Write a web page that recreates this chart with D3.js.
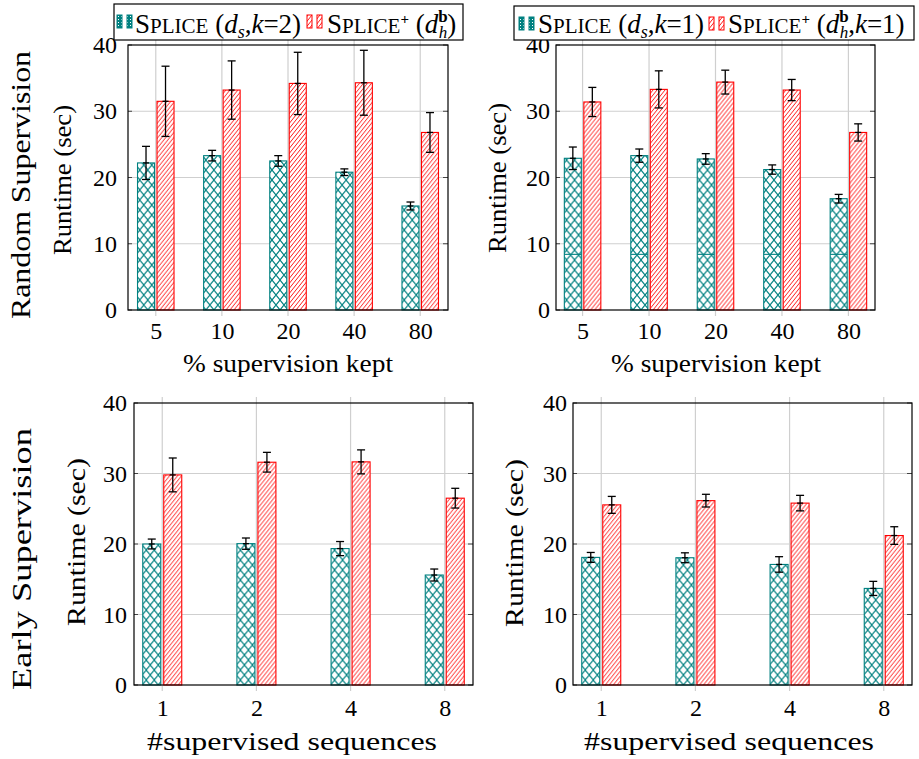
<!DOCTYPE html>
<html>
<head>
<meta charset="utf-8">
<script src="https://cdn.jsdelivr.net/npm/d3@7"></script>
</head>
<body style="margin:0;background:#fff">
<svg id="chart" width="919" height="759"></svg>
<script>
// ---- data ----
let randomCats = ["5", "10", "20", "40", "80"];
let earlyCats = ["1", "2", "4", "8"];
let yTicks = [0, 10, 20, 30, 40];

// random supervision, left (k=2)
let randK2Splice = [22.2, 23.3, 22.5, 20.8, 15.7];
let randK2SpliceErr = [2.5, 0.8, 0.8, 0.5, 0.6];
let randK2Plus = [31.5, 33.2, 34.2, 34.3, 26.8];
let randK2PlusErr = [5.3, 4.4, 4.7, 4.9, 3.0];

// random supervision, right (k=1)
let randK1Splice = [22.9, 23.3, 22.8, 21.2, 16.8];
let randK1SpliceErr = [1.7, 1.0, 0.8, 0.7, 0.65];
let randK1SpliceInner = [8.4, 8.4, 8.4, 8.4, 8.4];
let randK1Plus = [31.4, 33.3, 34.4, 33.2, 26.8];
let randK1PlusErr = [2.2, 2.8, 1.8, 1.6, 1.3];

// early supervision, left
let earlyK2Splice = [20.0, 20.05, 19.35, 15.6];
let earlyK2SpliceErr = [0.7, 0.8, 1.0, 0.85];
let earlyK2Plus = [29.8, 31.6, 31.65, 26.5];
let earlyK2PlusErr = [2.4, 1.4, 1.7, 1.4];

// early supervision, right
let earlyK1Splice = [18.1, 18.05, 17.1, 13.7];
let earlyK1SpliceErr = [0.7, 0.7, 1.1, 1.0];
let earlyK1Plus = [25.55, 26.15, 25.8, 21.2];
let earlyK1PlusErr = [1.2, 0.9, 1.1, 1.25];

let teal = "#008080";
let red = "#ff0000";
let serif = "Liberation Serif";

let svg = d3.select("#chart");

// patterns
let defs = svg.append("defs");
let cross = defs.append("pattern")
    .attr("id", "crossTeal")
    .attr("patternUnits", "userSpaceOnUse")
    .attr("width", 8).attr("height", 10);
cross.append("rect").attr("width", 8).attr("height", 10).attr("fill", "#fff");
cross.append("path")
    .attr("d", "M0,0L8,10M8,0L0,10")
    .attr("stroke", teal).attr("stroke-width", 1.1).attr("fill", "none");

let stripes = defs.append("pattern")
    .attr("id", "stripeRed")
    .attr("patternUnits", "userSpaceOnUse")
    .attr("width", 4).attr("height", 5);
stripes.append("rect").attr("width", 4).attr("height", 5).attr("fill", "#fff");
stripes.append("path")
    .attr("d", "M-1,1.25L1,-1.25M0,5L4,0M3,6.25L5,3.75")
    .attr("stroke", red).attr("stroke-width", 0.9).attr("fill", "none");

let dots = defs.append("pattern")
    .attr("id", "dotTeal")
    .attr("patternUnits", "userSpaceOnUse")
    .attr("width", 3).attr("height", 3);
dots.append("rect").attr("width", 3).attr("height", 3).attr("fill", teal);
dots.append("rect").attr("x", 1).attr("y", 1).attr("width", 1).attr("height", 1).attr("fill", "#fff");

function drawPanel(p) {
  let g = svg.append("g");
  let x = d3.scalePoint().domain(p.cats).range([p.x0, p.x1]).padding(p.pad);
  let y = d3.scaleLinear().domain([0, 40]).range([p.y1, p.y0]);
  let half = p.barW + p.gap / 2;
  let xs = d3.scaleBand().domain(["splice", "plus"])
      .range([-half, half]).paddingInner(p.gap / (p.barW + p.gap));

  // grid
  g.selectAll(".vgrid").data(p.cats).enter().append("line")
      .attr("x1", d => x(d)).attr("x2", d => x(d))
      .attr("y1", p.y0 - 6).attr("y2", p.y1 + 6)
      .attr("stroke", "#cfcfcf").attr("stroke-width", 1.2);
  g.selectAll(".hgrid").data(yTicks.slice(1, -1)).enter().append("line")
      .attr("x1", p.x0).attr("x2", p.x1)
      .attr("y1", d => y(d)).attr("y2", d => y(d))
      .attr("stroke", "#cfcfcf").attr("stroke-width", 1.2);
  g.selectAll(".ytickL").data(yTicks).enter().append("line")
      .attr("x1", p.x0).attr("x2", p.x0 + 4)
      .attr("y1", d => y(d)).attr("y2", d => y(d))
      .attr("stroke", "#444");
  g.selectAll(".ytickR").data(yTicks).enter().append("line")
      .attr("x1", p.x1 - 5).attr("x2", p.x1)
      .attr("y1", d => y(d)).attr("y2", d => y(d))
      .attr("stroke", "#444");

  let rows = p.cats.map((c, i) => ({
    c: c, s: p.splice[i], se: p.spliceErr[i], r: p.plus[i], re: p.plusErr[i],
    inner: p.inner ? p.inner[i] : null
  }));

  let bars = g.selectAll(".cat").data(rows).enter().append("g")
      .attr("transform", d => "translate(" + x(d.c) + ",0)");

  bars.append("rect")
      .attr("x", xs("splice")).attr("width", xs.bandwidth())
      .attr("y", d => y(d.s)).attr("height", d => y(0) - y(d.s))
      .attr("fill", "url(#crossTeal)").attr("stroke", teal).attr("stroke-width", 1.1);
  bars.filter(d => d.inner != null).append("line")
      .attr("x1", xs("splice")).attr("x2", xs("splice") + xs.bandwidth())
      .attr("y1", d => y(d.inner)).attr("y2", d => y(d.inner))
      .attr("stroke", teal).attr("stroke-width", 1.1);
  bars.append("rect")
      .attr("x", xs("plus")).attr("width", xs.bandwidth())
      .attr("y", d => y(d.r)).attr("height", d => y(0) - y(d.r))
      .attr("fill", "url(#stripeRed)").attr("stroke", red).attr("stroke-width", 1.1);

  // error bars
  let errs = [];
  rows.forEach(d => {
    errs.push({ cx: x(d.c) + xs("splice") + xs.bandwidth() / 2, v: d.s, e: d.se });
    errs.push({ cx: x(d.c) + xs("plus") + xs.bandwidth() / 2, v: d.r, e: d.re });
  });
  let eg = g.selectAll(".err").data(errs).enter().append("g")
      .attr("stroke", "#000").attr("stroke-width", 1.3);
  eg.append("line").attr("x1", d => d.cx).attr("x2", d => d.cx)
      .attr("y1", d => y(d.v + d.e)).attr("y2", d => y(d.v - d.e));
  eg.append("line").attr("x1", d => d.cx - 4).attr("x2", d => d.cx + 4)
      .attr("y1", d => y(d.v + d.e)).attr("y2", d => y(d.v + d.e));
  eg.append("line").attr("x1", d => d.cx - 4).attr("x2", d => d.cx + 4)
      .attr("y1", d => y(d.v - d.e)).attr("y2", d => y(d.v - d.e));
  eg.append("line").attr("x1", d => d.cx - 3).attr("x2", d => d.cx + 3)
      .attr("y1", d => y(d.v)).attr("y2", d => y(d.v));

  // frame
  g.append("rect")
      .attr("x", p.x0).attr("y", p.y0)
      .attr("width", p.x1 - p.x0).attr("height", p.y1 - p.y0)
      .attr("fill", "none").attr("stroke", "#000").attr("stroke-width", 1.2);

  // axes
  let ya = g.append("g").attr("transform", "translate(" + p.x0 + ",0)")
      .call(d3.axisLeft(y).tickValues(yTicks).tickSize(0).tickPadding(p.tickGap));
  ya.attr("font-family", serif).attr("font-size", 24);
  ya.select(".domain").remove();
  ya.selectAll("text").attr("font-family", serif).attr("fill", "#000");

  let xa = g.append("g").attr("transform", "translate(0," + p.y1 + ")")
      .call(d3.axisBottom(x).tickSize(0).tickPadding(p.xPad));
  xa.attr("font-family", serif).attr("font-size", 24);
  xa.select(".domain").remove();
  xa.selectAll("text").attr("font-family", serif).attr("fill", "#000");

  g.append("text")
      .attr("x", p.xTitleX).attr("y", p.xTitleY)
      .attr("text-anchor", "middle")
      .attr("font-family", serif)
      .attr("font-size", 26)
      .attr("textLength", p.xTitleLen).attr("lengthAdjust", "spacingAndGlyphs")
      .text(p.xTitle);

  g.append("text")
      .attr("transform", "translate(" + p.yTitleX + "," + p.yTitleY + ") rotate(-90)")
      .attr("text-anchor", "middle")
      .attr("font-family", serif)
      .attr("font-size", 25)
      .attr("textLength", p.yTitleLen).attr("lengthAdjust", "spacingAndGlyphs")
      .text("Runtime (sec)");
}

function addText(parent, x, y, pieces) {
  let t = parent.append("text").attr("x", x).attr("y", y)
      .attr("font-family", serif).attr("font-size", 27);
  pieces.forEach(pc => {
    let s = t.append("tspan").text(pc.t);
    if (pc.size) s.attr("font-size", pc.size);
    if (pc.it) s.attr("font-style", "italic");
    if (pc.b) s.attr("font-weight", "bold");
    if (pc.dy) s.attr("dy", pc.dy);
    if (pc.dx) s.attr("dx", pc.dx);
  });
}

function splicePieces(plus) {
  let a = [{ t: "S" }, { t: "PLICE", size: 21 }];
  if (plus) a.push({ t: "+", size: 15, b: true, dy: -9 }, { t: " (", dy: 9 });
  else a.push({ t: " (" });
  return a;
}

function drawLegend(l) {
  let g = svg.append("g");
  g.append("rect")
      .attr("x", l.x0).attr("y", l.y0).attr("width", l.x1 - l.x0).attr("height", l.y1 - l.y0)
      .attr("fill", "#fff").attr("stroke", "#000").attr("stroke-width", 1.2);
  [[l.tealX, "url(#dotTeal)", teal], [l.redX, "url(#stripeRed)", red]].forEach(ic => {
    [0, 10].forEach(off => {
      g.append("rect").attr("x", ic[0] + off).attr("y", l.y0 + 11)
          .attr("width", 5).attr("height", 13)
          .attr("fill", ic[1]).attr("stroke", ic[2]).attr("stroke-width", 1);
    });
  });
  addText(g, l.t1X, l.base, l.t1);
  addText(g, l.t2X, l.base, l.t2);
}

drawPanel({
  x0: 128, x1: 448, y0: 45, y1: 310, pad: 0.42, barW: 17, gap: 2.5,
  cats: randomCats, splice: randK2Splice, spliceErr: randK2SpliceErr,
  plus: randK2Plus, plusErr: randK2PlusErr,
  tickGap: 11, xPad: 12,
  xTitle: "% supervision kept", xTitleX: 288, xTitleY: 372, xTitleLen: 210,
  yTitleX: 71, yTitleY: 180, yTitleLen: 150
});
drawPanel({
  x0: 556, x1: 875, y0: 45, y1: 310, pad: 0.4, barW: 17, gap: 2.5,
  cats: randomCats, splice: randK1Splice, spliceErr: randK1SpliceErr, inner: randK1SpliceInner,
  plus: randK1Plus, plusErr: randK1PlusErr,
  tickGap: 6, xPad: 12,
  xTitle: "% supervision kept", xTitleX: 716, xTitleY: 372, xTitleLen: 210,
  yTitleX: 506, yTitleY: 178, yTitleLen: 150
});
drawPanel({
  x0: 134, x1: 473, y0: 403, y1: 685, pad: 0.3, barW: 18, gap: 3,
  cats: earlyCats, splice: earlyK2Splice, spliceErr: earlyK2SpliceErr,
  plus: earlyK2Plus, plusErr: earlyK2PlusErr,
  tickGap: 7, xPad: 14,
  xTitle: "#supervised sequences", xTitleX: 292, xTitleY: 750, xTitleLen: 290,
  yTitleX: 85, yTitleY: 542, yTitleLen: 168
});
drawPanel({
  x0: 573, x1: 912, y0: 403, y1: 685, pad: 0.3, barW: 18, gap: 3,
  cats: earlyCats, splice: earlyK1Splice, spliceErr: earlyK1SpliceErr,
  plus: earlyK1Plus, plusErr: earlyK1PlusErr,
  tickGap: 6, xPad: 14,
  xTitle: "#supervised sequences", xTitleX: 729, xTitleY: 750, xTitleLen: 290,
  yTitleX: 523, yTitleY: 543, yTitleLen: 168
});

// row titles
svg.append("text")
    .attr("transform", "translate(30,185) rotate(-90)")
    .attr("text-anchor", "middle").attr("font-size", 27).attr("font-family", serif)
    .attr("textLength", 268).attr("lengthAdjust", "spacingAndGlyphs")
    .text("Random Supervision");
svg.append("text")
    .attr("transform", "translate(31,559) rotate(-90)")
    .attr("text-anchor", "middle").attr("font-size", 27).attr("font-family", serif)
    .attr("textLength", 262).attr("lengthAdjust", "spacingAndGlyphs")
    .text("Early Supervision");

// legends
drawLegend({
  x0: 114, x1: 463, y0: 4, y1: 40, base: 33,
  tealX: 117, redX: 307, t1X: 135, t2X: 327,
  t1: splicePieces(false).concat([
    { t: "d", it: true }, { t: "s", it: true, size: 18, dy: 5 },
    { t: ",", dy: -5 }, { t: "k", it: true }, { t: "=2)" }
  ]),
  t2: splicePieces(true).concat([
    { t: "d", it: true }, { t: "b", b: true, size: 17, dy: -11 },
    { t: "h", it: true, size: 17, dx: -9, dy: 16 }, { t: ")", dy: -5 }
  ])
});
drawLegend({
  x0: 514, x1: 914, y0: 6, y1: 40, base: 33,
  tealX: 519, redX: 709, t1X: 538, t2X: 728,
  t1: splicePieces(false).concat([
    { t: "d", it: true }, { t: "s", it: true, size: 18, dy: 5 },
    { t: ",", dy: -5 }, { t: "k", it: true }, { t: "=1)" }
  ]),
  t2: splicePieces(true).concat([
    { t: "d", it: true }, { t: "b", b: true, size: 17, dy: -11 },
    { t: "h", it: true, size: 17, dx: -9, dy: 16 }, { t: ",", dy: -5 },
    { t: "k", it: true }, { t: "=1)" }
  ])
});
</script>
</body>
</html>
